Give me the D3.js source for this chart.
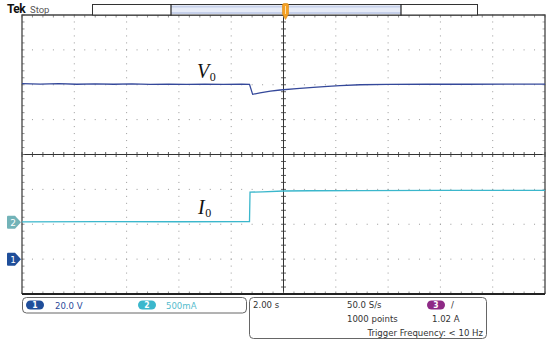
<!DOCTYPE html>
<html>
<head>
<meta charset="utf-8">
<script src="https://cdn.jsdelivr.net/npm/d3@7/dist/d3.min.js"></script>
<style>
    body { margin: 0; background: #fff; }
    svg { display: block; }
    .readout { font-family: "DejaVu Sans Condensed", "Liberation Sans Narrow", "DejaVu Sans", sans-serif; font-size: 9.5px; }
    .trace-label { font-family: "Liberation Serif", "DejaVu Serif", serif; font-style: italic; }
    .trace-label .sub { font-style: normal; }
</style>
</head>
<body>
<svg width="550" height="341"></svg>
<script>
// channel 1 : output voltage V0 (s, V)
const v0Time = [-10, -9.3, -8.6, -7.9, -7.2, -6.5, -5.8, -5.1, -4.4, -3.7, -3.0, -2.3, -1.6, -1.3,
    -1.18, -0.9, -0.5, -0.13, 0.5, 1.14, 1.7, 2.16, 2.93, 4, 5.5, 7, 8.5, 10];
const v0Volts = [100.6, 100.4, 100.6, 100.3, 100.5, 100.3, 100.5, 100.2, 100.4, 100.2, 100.4, 100.2, 100.3, 100.2,
    94.5, 95.4, 96.3, 97.0, 97.8, 98.5, 99.1, 99.5, 100.0, 100.2, 100.3, 100.3, 100.4, 100.4];

// channel 2 : output current I0 (s, A)
const i0Time = [-10, -7, -4, -1.3, -1.28, -0.8, 0, 1, 3, 6, 10];
const i0Amps = [0.005, 0.008, 0.006, 0.008, 0.43, 0.435, 0.447, 0.45, 0.452, 0.455, 0.455];

// scope settings
const secPerDiv = 2.0;
const ch1PerDiv = 20;    // V
const ch1Offset = -3;    // div
const ch2PerDiv = 0.5;   // A
const ch2Offset = -1.94; // div
const hDivs = 10;
const vDivs = 8;

const ch1Readout = ["1", "20.0 V"];
const ch2Readout = ["2", "500mA"];
const timeReadout = ["2.00 s", "50.0 S/s", "1000 points", "1.02 A", "Trigger Frequency: < 10 Hz"];

const svg = d3.select("svg");
const plotLeft = 22, plotRight = 545, plotTop = 15, plotBottom = 294;

const x = d3.scaleLinear().domain([-hDivs / 2 * secPerDiv, hDivs / 2 * secPerDiv]).range([plotLeft, plotRight]);
const xDiv = d3.scaleLinear().domain([-hDivs / 2, hDivs / 2]).range([plotLeft, plotRight]);
const yDiv = d3.scaleLinear().domain([-vDivs / 2, vDivs / 2]).range([plotBottom, plotTop]);
const yV = d3.scaleLinear()
    .domain([(-vDivs / 2 - ch1Offset) * ch1PerDiv, (vDivs / 2 - ch1Offset) * ch1PerDiv])
    .range([plotBottom, plotTop]);
const yI = d3.scaleLinear()
    .domain([(-vDivs / 2 - ch2Offset) * ch2PerDiv, (vDivs / 2 - ch2Offset) * ch2PerDiv])
    .range([plotBottom, plotTop]);

// graticule dots
const gGrid = svg.append("g");
const dots = [];
for (let i = -4; i <= 4; i++) {
    if (i === 0) continue;
    for (let k = -vDivs / 2 * 5; k <= vDivs / 2 * 5; k++) dots.push([xDiv(i), yDiv(k / 5)]);
}
for (let j = -3; j <= 3; j++) {
    if (j === 0) continue;
    for (let k = -hDivs / 2 * 5; k <= hDivs / 2 * 5; k++) dots.push([xDiv(k / 5), yDiv(j)]);
}
gGrid.selectAll("rect.dot").data(dots).enter().append("rect")
    .attr("class", "dot")
    .attr("x", d => d[0] - 0.5).attr("y", d => d[1] - 0.5)
    .attr("width", 1).attr("height", 1)
    .attr("fill", "#9a9a9a");

// centre cross with minor ticks
gGrid.append("line").attr("x1", xDiv(0)).attr("x2", xDiv(0)).attr("y1", plotTop).attr("y2", plotBottom)
    .attr("stroke", "#333").attr("stroke-width", 1);
gGrid.append("line").attr("x1", plotLeft).attr("x2", plotRight).attr("y1", yDiv(0)).attr("y2", yDiv(0))
    .attr("stroke", "#333").attr("stroke-width", 1);
const vTicks = d3.range(-vDivs / 2 * 5, vDivs / 2 * 5 + 1).map(k => k / 5);
const hTicks = d3.range(-hDivs / 2 * 5, hDivs / 2 * 5 + 1).map(k => k / 5);
gGrid.selectAll("line.ctv").data(vTicks).enter().append("line")
    .attr("x1", xDiv(0) - 2.5).attr("x2", xDiv(0) + 2.5)
    .attr("y1", d => yDiv(d)).attr("y2", d => yDiv(d))
    .attr("stroke", "#333").attr("stroke-width", 0.8);
gGrid.selectAll("line.cth").data(hTicks).enter().append("line")
    .attr("y1", yDiv(0) - 2.5).attr("y2", yDiv(0) + 2.5)
    .attr("x1", d => xDiv(d)).attr("x2", d => xDiv(d))
    .attr("stroke", "#333").attr("stroke-width", 0.8);

// edge ticks
gGrid.selectAll("line.lt").data(vTicks).enter().append("line")
    .attr("x1", plotLeft).attr("x2", plotLeft + 2.5)
    .attr("y1", d => yDiv(d)).attr("y2", d => yDiv(d))
    .attr("stroke", "#777").attr("stroke-width", 0.8);
gGrid.selectAll("line.rt").data(vTicks).enter().append("line")
    .attr("x1", plotRight - 2.5).attr("x2", plotRight)
    .attr("y1", d => yDiv(d)).attr("y2", d => yDiv(d))
    .attr("stroke", "#999").attr("stroke-width", 0.8);
gGrid.selectAll("line.tt").data(hTicks).enter().append("line")
    .attr("y1", plotTop).attr("y2", plotTop + 2.5)
    .attr("x1", d => xDiv(d)).attr("x2", d => xDiv(d))
    .attr("stroke", "#777").attr("stroke-width", 0.8);
gGrid.selectAll("line.bt").data(hTicks).enter().append("line")
    .attr("y1", plotBottom - 2.5).attr("y2", plotBottom)
    .attr("x1", d => xDiv(d)).attr("x2", d => xDiv(d))
    .attr("stroke", "#777").attr("stroke-width", 0.8);

// frame
svg.append("path")
    .attr("d", `M${plotLeft},${plotBottom} L${plotLeft},${plotTop} L${plotRight},${plotTop} L${plotRight},${plotBottom}`)
    .attr("fill", "none").attr("stroke", "#444").attr("stroke-width", 1.3);
svg.append("line").attr("x1", plotLeft).attr("x2", plotRight).attr("y1", plotBottom).attr("y2", plotBottom)
    .attr("stroke", "#222").attr("stroke-width", 2);

// traces
const lineV = d3.line().x(d => x(d[0])).y(d => yV(d[1]));
const lineI = d3.line().x(d => x(d[0])).y(d => yI(d[1]));
svg.append("path")
    .datum(d3.zip(v0Time, v0Volts))
    .attr("d", lineV)
    .attr("fill", "none").attr("stroke", "#34489a").attr("stroke-width", 1.3);
svg.append("path")
    .datum(d3.zip(i0Time, i0Amps))
    .attr("d", lineI)
    .attr("fill", "none").attr("stroke", "#3bb7cc").attr("stroke-width", 1.3);

// trace labels
const lv = svg.append("text").attr("class", "trace-label")
    .attr("x", 197).attr("y", 78).attr("font-size", 20).attr("fill", "#111");
lv.append("tspan").text("V");
lv.append("tspan").attr("class", "sub").attr("font-size", 12).attr("dx", 0.5).attr("dy", 3).text("0");
const li = svg.append("text").attr("class", "trace-label")
    .attr("x", 198).attr("y", 214).attr("font-size", 20).attr("fill", "#111");
li.append("tspan").text("I");
li.append("tspan").attr("class", "sub").attr("font-size", 12).attr("dx", 0.5).attr("dy", 3).text("0");

// channel ground markers
function marker(y, label, color) {
    const g = svg.append("g").attr("transform", `translate(7,${y})`);
    g.append("path")
        .attr("d", "M1,-6.5 L8,-6.5 L14,0 L8,6.5 L1,6.5 Q0,6.5 0,5.5 L0,-5.5 Q0,-6.5 1,-6.5 Z")
        .attr("fill", color);
    g.append("text").attr("x", 6).attr("y", 3.5).attr("text-anchor", "middle")
        .attr("font-family", "DejaVu Sans, sans-serif").attr("font-size", 9)
        .attr("fill", "#fff").text(label);
}
marker(yI(0), "2", "#72b3b8");
marker(yV(0), "1", "#1f4e9a");

// header
svg.append("text").attr("x", 7).attr("y", 13)
    .attr("font-family", "Roboto, DejaVu Sans, sans-serif").attr("font-weight", "bold")
    .attr("font-size", 12).attr("letter-spacing", -0.6).attr("fill", "#111").text("Tek");
svg.append("text").attr("x", 30).attr("y", 13)
    .attr("font-family", "Roboto, DejaVu Sans, sans-serif")
    .attr("font-size", 9.5).attr("fill", "#555").text("Stop");

// record bar
svg.append("rect").attr("x", 92.5).attr("y", 4.5).attr("width", 385).attr("height", 10.5)
    .attr("fill", "#fff").attr("stroke", "#333").attr("stroke-width", 1);
svg.append("rect").attr("x", 171).attr("y", 5.5).attr("width", 230).attr("height", 8.5)
    .attr("fill", "#c6d0ea");
svg.append("rect").attr("x", 171).attr("y", 7.5).attr("width", 230).attr("height", 4.5)
    .attr("fill", "#e6ebf7");
[171, 401].forEach(bx => {
    svg.append("line").attr("x1", bx).attr("x2", bx).attr("y1", 4).attr("y2", 15.5)
        .attr("stroke", "#222").attr("stroke-width", 1.2);
});

// trigger position marker
svg.append("path")
    .attr("d", "M282.5,5 Q282.5,3.5 284,3.5 L287,3.5 Q288.5,3.5 288.5,5 L288.5,14 L285.5,19.5 L282.5,14 Z")
    .attr("fill", "#f4a024").attr("stroke", "#d98a12").attr("stroke-width", 0.6);
svg.append("line").attr("x1", 285.5).attr("x2", 285.5).attr("y1", 6).attr("y2", 14)
    .attr("stroke", "#fde0a8").attr("stroke-width", 1);

// readouts
const gInfo = svg.append("g").attr("class", "readout");
gInfo.append("rect").attr("x", 22.5).attr("y", 297.5).attr("width", 224).attr("height", 15.5)
    .attr("rx", 4).attr("fill", "none").attr("stroke", "#666").attr("stroke-width", 1);
gInfo.append("rect").attr("x", 249.5).attr("y", 297.5).attr("width", 237).attr("height", 41)
    .attr("rx", 4).attr("fill", "none").attr("stroke", "#666").attr("stroke-width", 1);

function pill(px, py, label, color) {
    gInfo.append("rect").attr("x", px).attr("y", py).attr("width", 18).attr("height", 9)
        .attr("rx", 4.5).attr("fill", color);
    gInfo.append("text").attr("x", px + 9).attr("y", py + 7.5).attr("text-anchor", "middle")
        .attr("font-size", 8.5).attr("font-weight", "bold").attr("fill", "#fff").text(label);
}
pill(26, 300.5, ch1Readout[0], "#1f4e9a");
gInfo.append("text").attr("x", 55).attr("y", 309).attr("fill", "#2c4a9a").text(ch1Readout[1]);
pill(138, 300.5, ch2Readout[0], "#3bb7cc");
gInfo.append("text").attr("x", 166).attr("y", 309).attr("fill", "#55bccd").text(ch2Readout[1]);

gInfo.append("text").attr("x", 253).attr("y", 308).attr("fill", "#333").text(timeReadout[0]);
gInfo.append("text").attr("x", 347).attr("y", 308).attr("fill", "#333").text(timeReadout[1]);
pill(427, 300.5, "3", "#8e2a86");
gInfo.append("text").attr("x", 451).attr("y", 308).attr("fill", "#333").text("/");
gInfo.append("text").attr("x", 347).attr("y", 322).attr("fill", "#333").text(timeReadout[2]);
gInfo.append("text").attr("x", 432).attr("y", 322).attr("fill", "#333").text(timeReadout[3]);
gInfo.append("text").attr("x", 483).attr("y", 335.5).attr("text-anchor", "end")
    .attr("fill", "#333").text(timeReadout[4]);
</script>
</body>
</html>
